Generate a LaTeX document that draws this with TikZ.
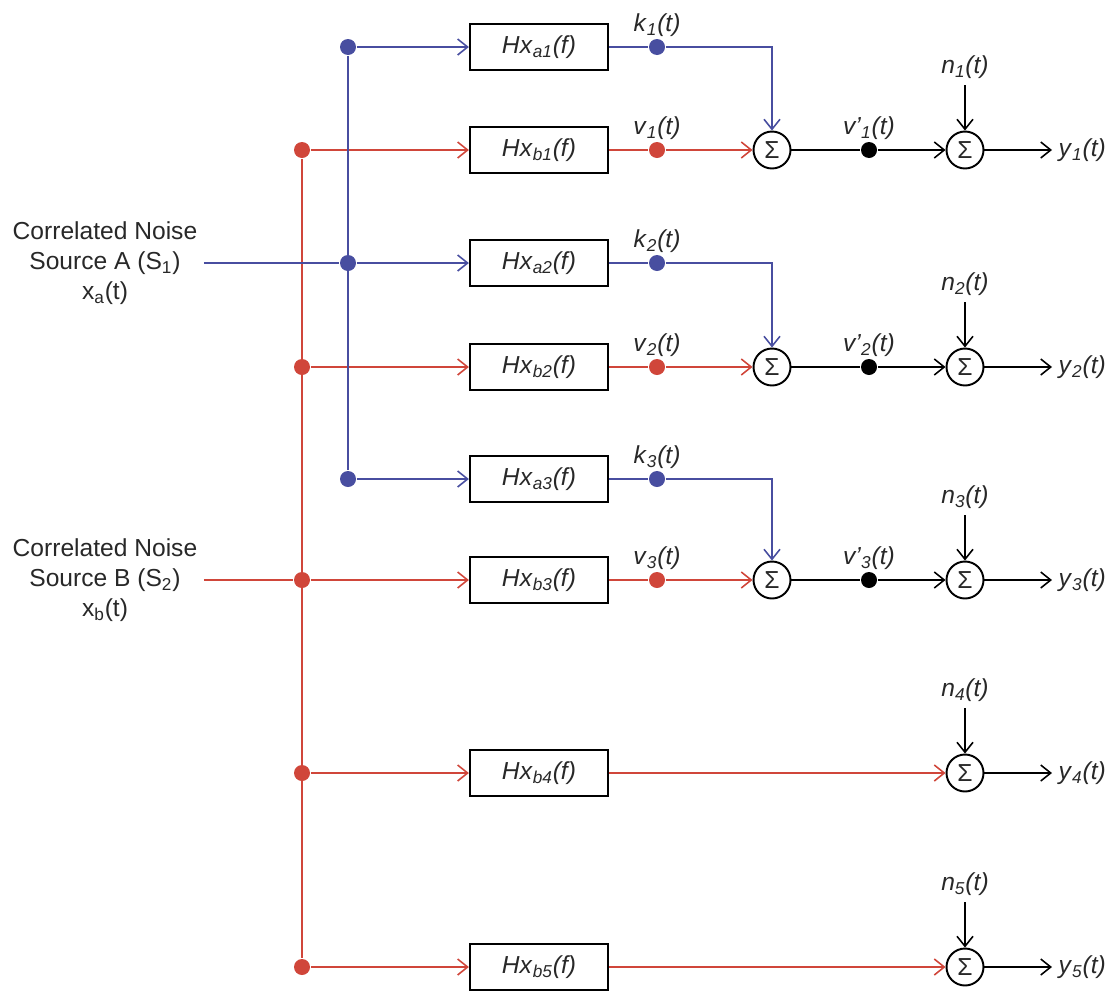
\documentclass[tikz,border=0pt]{standalone}
\usepackage{fontspec}
\setmainfont{Liberation Sans}
\usepackage{xcolor}
\usetikzlibrary{arrows.meta}
\definecolor{srcA}{RGB}{72,78,160}
\definecolor{srcB}{RGB}{208,70,58}
\definecolor{ink}{RGB}{40,40,40}
\newcommand{\lbl}[3]{\textit{#1}\textsubscript{\textit{#2}}\textit{(#3)}}

\begin{document}
\begin{tikzpicture}[x=0.02cm,y=-0.02cm,
		font=\fontsize{14}{17}\selectfont,
		>={Straight Barb[length=2mm,width=3.2mm]},
		line width=0.9pt,
		every node/.append style={text=ink},
		filter/.style={draw,line width=1.3pt,minimum width=2.76cm,minimum height=0.92cm,inner sep=0pt},
		summer/.style={draw,circle,line width=1.1pt,minimum size=0.74cm,inner sep=0pt},
		tap/.style={circle,fill,inner sep=0pt,minimum size=0.32cm}]
		\useasboundingbox (0,0) rectangle (1119,991);
		
		\node[align=center] (srcA) at (105,263) {Correlated Noise\\Source A (S\textsubscript{1})\\x\textsubscript{a}(t)};
		\node[align=center] (srcB) at (105,580) {Correlated Noise\\Source B (S\textsubscript{2})\\x\textsubscript{b}(t)};
		
		% filtered copies of source B, one per output
		\foreach \i/\y in {1/150,2/367,3/580,4/773,5/967} {
			\node[tap,srcB] (db\i) at (302,\y) {};
			\node[filter] (hb\i) at (539,\y) {\lbl{Hx}{b\i}{f}};
			\node[summer] (t\i) at (965,\y) {Σ};
			\node (n\i) at (965,\y-83) {\lbl{n}{\i}{t}};
			\node[anchor=west] (y\i) at (1052,\y) {\lbl{y}{\i}{t}};
			\draw[srcB,->] (db\i) -- (hb\i);
			\draw[->] (n\i) -- (t\i);
			\draw[->] (t\i) -- (y\i);
		}
		\draw[srcB] (db1) -- (db5);
		\draw[srcB] (srcB) -- (db3);
		\foreach \i in {4,5}
			\draw[srcB,->] (hb\i) -- (t\i);
		
		% filtered copies of source A, summed with the first three
		\foreach \i/\ya/\yb in {1/47/150,2/263/367,3/479/580} {
			\node[tap,srcA] (da\i) at (348,\ya) {};
			\node[filter] (ha\i) at (539,\ya) {\lbl{Hx}{a\i}{f}};
			\node[tap,srcA,label={[label distance=-3pt]above:\lbl{k}{\i}{t}}] (k\i) at (657,\ya) {};
			\node[tap,srcB,label={[label distance=-3pt]above:\lbl{v}{\i}{t}}] (v\i) at (657,\yb) {};
			\node[summer] (s\i) at (772,\yb) {Σ};
			\node[tap,label={[label distance=-3pt]above:\lbl{v'}{\i}{t}}] (w\i) at (869,\yb) {};
			\draw[srcA,->] (da\i) -- (ha\i);
			\draw[srcA,->] (ha\i) -- (k\i) -| (s\i);
			\draw[srcB,->] (hb\i) -- (v\i) -- (s\i);
			\draw (s\i) -- (w\i);
			\draw[->] (w\i) -- (t\i);
		}
		\draw[srcA] (da1) -- (da3);
		\draw[srcA] (srcA) -- (da2);
	\end{tikzpicture}
\end{document}
